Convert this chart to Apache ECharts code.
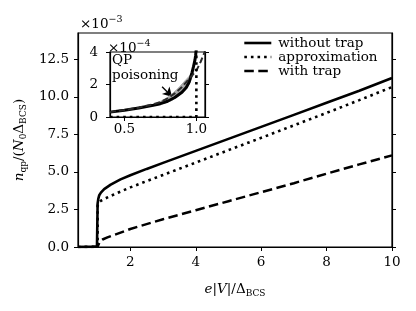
<!DOCTYPE html>
<html><head><meta charset="utf-8">
<script src="https://cdn.jsdelivr.net/npm/echarts@6/dist/echarts.min.js"></script>
<style>html,body{margin:0;padding:0;background:#fff}#c{width:416px;height:311px}</style>
</head><body><div id="c"></div>
<script>
// ---- main panel data (n_qp in units of 1e-3) ----
const withoutTrapX = [0.4, 0.6, 0.8, 0.9, 0.95, 0.98, 0.995, 1.0, 1.02, 1.05, 1.1, 1.2, 1.4, 1.7, 2, 2.5, 3, 4, 5, 6, 7, 8, 9, 10];
const withoutTrapY = [0.003, 0.005, 0.009, 0.013, 0.018, 0.025, 0.06, 2.9, 3.2, 3.45, 3.62, 3.85, 4.15, 4.5, 4.78, 5.2, 5.6, 6.4, 7.2, 8.0, 8.8, 9.6, 10.4, 11.25];
const approxX = [0.4, 1.0, 1.0, 1.03, 1.1, 1.3, 1.5, 2, 3, 4, 5, 6, 7, 8, 9, 10];
const approxY = [0, 0, 2.75, 2.95, 3.08, 3.3, 3.5, 3.97, 4.8, 5.62, 6.45, 7.27, 8.1, 8.93, 9.78, 10.65];
const withTrapX = [0.4, 0.6, 0.8, 0.9, 0.95, 1.0, 1.04, 1.08, 1.15, 1.3, 1.5, 2, 3, 4, 5, 6, 7, 8, 9, 10];
const withTrapY = [0.003, 0.006, 0.011, 0.017, 0.023, 0.03, 0.1, 0.4, 0.5, 0.64, 0.8, 1.2, 1.85, 2.45, 3.05, 3.65, 4.25, 4.88, 5.5, 6.1];
const mainXTicks = [2, 4, 6, 8, 10];
const mainYTicks = [0, 2.5, 5, 7.5, 10, 12.5];

// ---- inset data (units of 1e-4) ----
const insetSolidX = [0.4, 0.5, 0.6, 0.7, 0.75, 0.8, 0.85, 0.9, 0.93, 0.95, 0.97, 0.98, 0.99, 0.995, 1.0];
const insetSolidY = [0.3, 0.42, 0.56, 0.72, 0.82, 0.97, 1.2, 1.52, 1.82, 2.15, 2.75, 3.1, 3.5, 3.8, 4.3];
const insetDashX = [0.4, 0.5, 0.6, 0.7, 0.75, 0.8, 0.85, 0.9, 0.93, 0.95, 0.97, 1.0, 1.03, 1.06];
const insetDashY = [0.3, 0.43, 0.58, 0.78, 0.92, 1.15, 1.45, 1.85, 2.15, 2.35, 2.55, 2.85, 3.4, 4.05];
const insetApproxX = [0.4, 1.0, 1.0];
const insetApproxY = [0, 0, 5];
const bandX = [0.72, 0.78, 0.83, 0.88, 0.92, 0.95, 0.97, 0.985];
const bandLow = [0.72, 0.85, 1.02, 1.32, 1.66, 2.0, 2.45, 2.9];
const bandHigh = [0.84, 1.08, 1.4, 1.82, 2.22, 2.5, 2.72, 2.95];
const insetXTicks = [0.5, 1.0];
const insetYTicks = [0, 2, 4];
const arrowFrom = [0.762, 1.86];
const arrowTo = [0.831, 1.25];

const FONT = 'DejaVu Serif';
const FS = 13.5;
const zip = (xs, ys) => xs.map((x, i) => [x, ys[i]]);

const rich = {
  i: {fontFamily: FONT, fontStyle: 'italic', fontSize: FS, lineHeight: 18, color: '#000'},
  r: {fontFamily: FONT, fontSize: FS, lineHeight: 18, color: '#000'},
  s: {fontFamily: FONT, fontSize: 9, lineHeight: 10, verticalAlign: 'bottom', color: '#000'},
  sup: {fontFamily: FONT, fontSize: 9.5, lineHeight: 10, verticalAlign: 'top', color: '#000'}
};

function axisCommon(ticks, fmt, margin) {
  return {
    type: 'value',
    splitLine: {show: false},
    axisLine: {show: true, lineStyle: {color: '#000', width: 1.2}},
    axisTick: {show: true, inside: false, length: 4, lineStyle: {color: '#000', width: 1}, customValues: ticks},
    axisLabel: {show: true, customValues: ticks, formatter: fmt, color: '#000', fontFamily: FONT, fontSize: FS, margin: margin}
  };
}

const chart = echarts.init(document.getElementById('c'), null, {renderer: 'canvas'});
const option = {
  backgroundColor: '#fff',
  animation: false,
  grid: [
    {left: 78, top: 33, right: 24, bottom: 64, show: true, borderColor: '#000', borderWidth: 1.2, backgroundColor: 'transparent'},
    {left: 110, top: 52, width: 95, height: 65, show: true, borderColor: '#000', borderWidth: 1.2, backgroundColor: '#fff', z: 5}
  ],
  xAxis: [
    Object.assign(axisCommon(mainXTicks, v => String(v), 8), {
      gridIndex: 0, min: 0.4, max: 10,
      name: '{i|e}{r||}{i|V}{r||/Δ}{s|BCS}', nameLocation: 'middle', nameGap: 33,
      nameTextStyle: {rich: rich}
    }),
    Object.assign(axisCommon(insetXTicks, v => v.toFixed(1), 5), {gridIndex: 1, min: 0.4, max: 1.06, z: 6})
  ],
  yAxis: [
    Object.assign(axisCommon(mainYTicks, v => v.toFixed(1), 9), {
      gridIndex: 0, min: 0, max: 14.25, position: 'left',
      name: '{i|n}{s|qp}{r|/(}{i|N}{s|0}{r|Δ}{s|BCS}{r|)}', nameLocation: 'middle', nameGap: 50, nameRotate: 90,
      nameTextStyle: {rich: rich}
    }),
    Object.assign(axisCommon(mainYTicks, v => '', 9), {gridIndex: 0, min: 0, max: 14.25, position: 'right', axisLabel: {show: false}}),
    Object.assign(axisCommon(insetYTicks, v => String(v), 12), {gridIndex: 1, min: 0, max: 4, position: 'left', z: 6}),
    Object.assign(axisCommon(insetYTicks, v => '', 9), {gridIndex: 1, min: 0, max: 4, position: 'right', axisLabel: {show: false}, z: 6})
  ],
  legend: {
    data: ['without trap', 'approximation', 'with trap'],
    orient: 'vertical', left: 243, top: 36, padding: 0,
    itemWidth: 27, itemHeight: 10, itemGap: 0,
    itemStyle: {opacity: 0},
    lineStyle: {width: 2.6},
    textStyle: {fontFamily: FONT, fontSize: FS, color: '#000', lineHeight: 14, padding: [0, 0, 0, 2]}
  },
  graphic: [
    {type: 'text', left: 80, top: 15, z: 10, style: {text: '{r|×10}{sup|−3}', rich: rich, fill: '#000'}},
    {type: 'text', left: 108, top: 39, z: 10, style: {text: '{r|×10}{sup|−4}', rich: rich, fill: '#000'}},
    {type: 'text', left: 112, top: 53, z: 10, style: {text: 'QP\npoisoning', fontFamily: FONT, fontSize: FS, lineHeight: 15, fill: '#000'}}
  ],
  series: [
    {name: 'without trap', type: 'line', xAxisIndex: 0, yAxisIndex: 0, data: zip(withoutTrapX, withoutTrapY), showSymbol: false, symbol: 'none',
      lineStyle: {color: '#000', width: 2.6, type: 'solid'}, itemStyle: {color: '#000'}},
    {name: 'approximation', type: 'line', xAxisIndex: 0, yAxisIndex: 0, data: zip(approxX, approxY), showSymbol: false, symbol: 'none',
      lineStyle: {color: '#000', width: 2.6, type: [2.6, 4]}, itemStyle: {color: '#000'}},
    {name: 'with trap', type: 'line', xAxisIndex: 0, yAxisIndex: 0, data: zip(withTrapX, withTrapY), showSymbol: false, symbol: 'none',
      lineStyle: {color: '#000', width: 2.5, type: [9.5, 4.5]}, itemStyle: {color: '#000'}},
    {name: 'band', type: 'custom', xAxisIndex: 1, yAxisIndex: 2, z: 6,
      data: bandX.map((x, i) => [x, bandLow[i], bandHigh[i]]),
      renderItem: function (params, api) {
        if (params.dataIndex !== 0) return null;
        const pts = [];
        for (let i = 0; i < bandX.length; i++) pts.push(api.coord([bandX[i], bandHigh[i]]));
        for (let i = bandX.length - 1; i >= 0; i--) pts.push(api.coord([bandX[i], bandLow[i]]));
        return {type: 'polygon', shape: {points: pts}, style: {fill: '#a8a8a8', stroke: '#a8a8a8', lineWidth: 1}};
      }},
    {name: 'inset-without', type: 'line', xAxisIndex: 1, yAxisIndex: 2, z: 7, data: zip(insetSolidX, insetSolidY), showSymbol: false, symbol: 'none',
      lineStyle: {color: '#000', width: 3}, itemStyle: {color: '#000'},
      markLine: {silent: true, symbol: ['none', 'arrow'], symbolSize: [8, 9], label: {show: false},
        lineStyle: {color: '#000', width: 1.3, type: 'solid'},
        data: [[{coord: arrowFrom}, {coord: arrowTo}]]}},
    {name: 'inset-trap', type: 'line', xAxisIndex: 1, yAxisIndex: 2, z: 7, data: zip(insetDashX, insetDashY), showSymbol: false, symbol: 'none',
      lineStyle: {color: '#2a2a2a', width: 2, type: [6, 3]}},
    {name: 'inset-approx', type: 'line', xAxisIndex: 1, yAxisIndex: 2, z: 7, data: zip(insetApproxX, insetApproxY), showSymbol: false, symbol: 'none',
      lineStyle: {color: '#000', width: 2.6, type: [2.6, 4]}}
  ]
};
chart.setOption(option);
</script>
</body></html>
